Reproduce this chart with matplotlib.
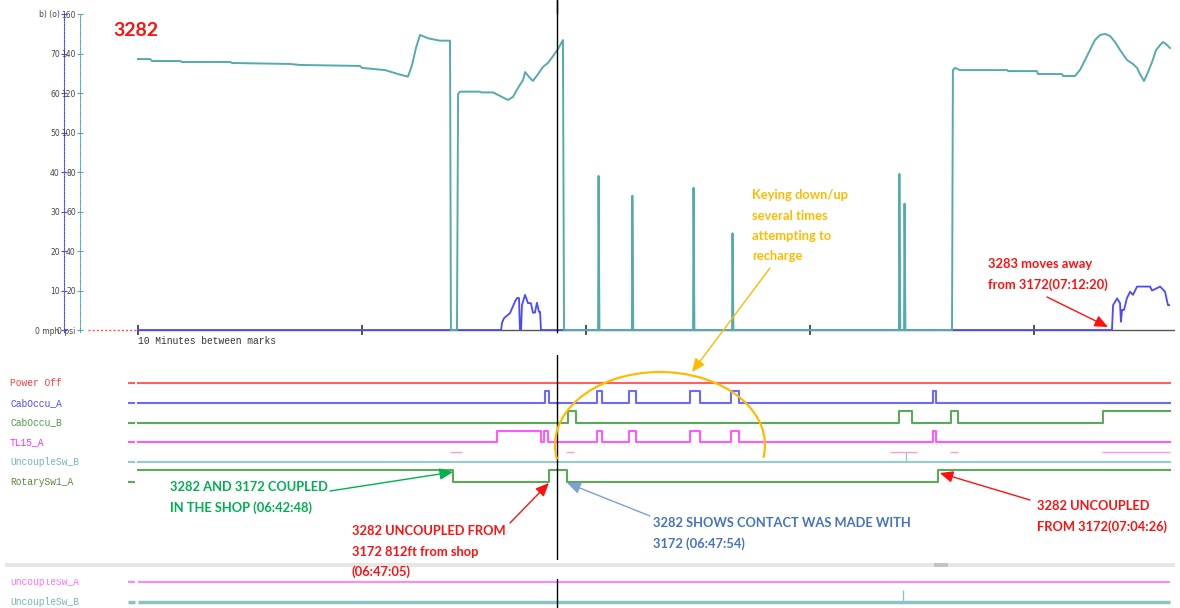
import matplotlib
matplotlib.use("Agg")
import matplotlib.pyplot as plt
from matplotlib import transforms
from matplotlib.patches import Arc, Rectangle

W, H, DPI = 1180, 608, 100


def hms(s):
    """'HH:MM:SS' -> minutes after 06:00."""
    h, m, sec = (int(v) for v in s.split(":"))
    return (h - 6) * 60 + m + sec / 60


# ---- recorder timeline (minutes after 06:00) ----
TRACE_START = 28.74
TRACE_END = 74.81
MARK_EVERY = 10
CURSOR = hms("06:47:27")

# ---- analog channels ----
PRESSURE_T = [28.74, 29.28, 29.37, 30.62, 30.70, 32.85, 32.94, 35.53, 35.97, 38.65,
              38.74, 39.77, 40.35, 40.79, 40.97, 41.15, 41.33, 41.69, 42.22, 42.67,
              42.71, 42.98, 43.03, 43.12, 44.01, 44.05, 44.59, 44.90, 45.26, 45.48,
              45.70, 45.93, 46.02, 46.24, 46.37, 46.60, 46.82, 47.04, 47.27, 47.49,
              47.71, 47.76,
              49.28, 49.30, 49.34, 50.79, 50.81, 50.85, 53.52, 53.54, 53.58,
              55.26, 55.28, 55.32,
              62.71, 62.73, 62.77, 62.94, 62.96, 63.00,
              65.08, 65.12, 65.21, 65.44, 67.54, 67.58, 68.87, 68.92, 69.99, 70.04,
              70.57, 70.79, 71.02, 71.24, 71.46, 71.69, 71.91, 72.13, 72.36, 72.58,
              72.89, 73.16, 73.34, 73.47, 73.65, 73.83, 74.01, 74.19, 74.41, 74.50,
              74.63, 74.81]
PRESSURE_PSI = [137.2, 137.2, 136.2, 136.2, 135.7, 135.7, 135.2, 134.7, 134.2, 133.7,
                132.7, 131.6, 129.6, 128.3, 134.0, 142.8, 149.4, 147.7, 146.5, 146.5,
                0, 0, 119.5, 120.7, 120.7, 120.3, 120.3, 118.5, 116.5, 118.0,
                122.5, 126.6, 130.6, 127.6, 126.1, 129.6, 133.2, 135.2, 138.7, 142.3,
                146.8, 0,
                0, 78, 0, 0, 68, 0, 0, 72, 0,
                0, 49, 0,
                0, 79, 0, 0, 64, 0,
                0, 131.6, 132.7, 131.6, 131.6, 131.1, 131.1, 129.6, 129.6, 128.6,
                128.6, 131.6, 136.7, 141.8, 146.8, 149.4, 149.9, 148.9, 145.8, 141.8,
                136.7, 134.7, 132.7, 129.6, 126.1, 130.6, 135.7, 141.8, 144.8, 145.8,
                144.8, 142.8]

SPEED_T = [28.74, 44.95, 44.99, 45.08, 45.35, 45.57, 45.66, 45.75, 45.79, 45.84,
           45.88, 46.02, 46.15, 46.28, 46.37, 46.46, 46.55, 46.64, 46.69, 46.73,
           72.22, 72.27, 72.45, 72.58, 72.62, 72.67, 72.76, 72.89, 73.03, 73.16,
           73.34, 73.92, 74.01, 74.37, 74.59, 74.72, 74.77]
SPEED_MPH = [0, 0, 1.8, 3.0, 4.3, 7.2, 8.1, 8.1, 0, 0,
             6.3, 8.9, 6.8, 6.8, 4.4, 4.4, 6.9, 4.6, 4.6, 0,
             0, 6.3, 8.0, 6.8, 2.1, 5.1, 5.1, 8.1, 9.7, 8.9,
             11.0, 11.0, 10.0, 11.0, 9.7, 6.3, 6.3]

PSI_TICKS = [0, 20, 40, 60, 80, 100, 120, 140, 160]
PSI_LABELS = ["0 psi", "20", "40", "60", "80", "100", "120", "140", "160"]
MPH_TICKS = [0, 10, 20, 30, 40, 50, 60, 70, 80]
MPH_LABELS = ["0 mph", "10", "20", "30", "40", "50", "60", "70", "b) (o)"]

# ---- discrete channels: (on, off) pulses ----
COUPLED = "06:42:48"
UNCOUPLED_SHOP = "06:47:05"
CONTACT = "06:47:54"
UNCOUPLED = "07:04:26"
MOVES_AWAY = "07:12:20"

SIGNALS = ["Power Off", "CabOccu_A", "CabOccu_B", "TL15_A", "UncoupleSw_B", "RotarySw1_A"]
POWER_OFF = []
CABOCCU_A = [(46.91, 47.09), (49.23, 49.45), (50.66, 50.97), (53.38, 53.83),
             (55.21, 55.57), (64.23, 64.37)]
CABOCCU_B = [(47.94, 48.29), (62.71, 63.29), (65.03, 65.35), (71.82, TRACE_END)]
TL15_A = [(44.77, 46.73), (46.87, 47.04), (49.23, 49.45), (50.66, 50.97),
          (53.38, 53.83), (55.21, 55.57), (64.23, 64.37)]
TL15_FAINT = [(42.67, 43.20), (47.85, 48.20), (62.31, 63.52), (64.99, 65.35),
              (71.78, TRACE_END)]
UNCOUPLE_SW_B = []
UNCOUPLE_SW_B_BLIP = [63.03]
ROTARY_SW1_A = [(TRACE_START, hms(COUPLED)), (hms(UNCOUPLED_SHOP), hms(CONTACT)),
                (hms(UNCOUPLED), TRACE_END)]

LOWER_SIGNALS = ["UncoupleSw_A", "UncoupleSw_B"]
LOWER_SW_B_BLIP = [62.89]

SIG_LINE = ["#ff6060", "#6a6aff", "#5aaa5a", "#ff5aff", "#94cccc", "#5aaa5a"]
SIG_TEXT = ["#ff3a3a", "#4a4aff", "#4c9c4c", "#ff2aff", "#78b4b4", "#5a8a3a"]

# ---- palette ----
TEAL = "#55abab"
BLUE = "#4a4aff"
AXIS_GREY = "#555555"
RED = "#ff1010"
GREEN = "#00b050"
NOTE_BLUE = "#4472c4"
ORANGE = "#ffbb00"

PX_PER_MIN = 22.4   # horizontal scale of the viewer
X0_PX = 138         # pixel column of TRACE_START
ROW_PX = 19.8       # spacing of the discrete rows
HIGH = 0.6          # pulse height in row units

MONO = "Liberation Mono"
NOTE_FONT = ["Lato", "DejaVu Sans"]


def t_at(px):
    return TRACE_START + (px - X0_PX) / PX_PER_MIN


def px_box(x0, y0, x1, y1):
    return [x0 / W, 1 - y1 / H, (x1 - x0) / W, (y1 - y0) / H]


def step_xy(pulses):
    xs, ys = [TRACE_START], [0]
    for a, b in pulses:
        if a <= TRACE_START:
            ys[0] = 1
        else:
            xs.append(a)
            ys.append(1)
        if b < TRACE_END:
            xs.append(b)
            ys.append(0)
    xs.append(TRACE_END)
    ys.append(ys[-1])
    return xs, ys


fig = plt.figure(figsize=(W / DPI, H / DPI), dpi=DPI)
fig.patch.set_facecolor("white")

# ---------------- analog pane ----------------
ax = fig.add_axes(px_box(88, 14, 1175, 332))
ax_mph = ax.twinx()
ax.set_zorder(ax_mph.get_zorder() + 1)
ax.patch.set_visible(False)

for a in (ax, ax_mph):
    a.set_xlim(t_at(88), t_at(1175))
    for s in a.spines.values():
        s.set_visible(False)
    a.set_xticks([])
ax.set_ylim(-1, 160)
ax_mph.set_ylim(-0.5, 80)

ax.spines["left"].set_visible(True)
ax.spines["left"].set_position(("outward", 8 * 72 / DPI))
ax.spines["left"].set_linestyle((0, (1.2, 1.2)))
ax.spines["left"].set_color(TEAL)
ax.set_yticks(PSI_TICKS)
ax.set_yticklabels(PSI_LABELS)
ax.tick_params(axis="y", direction="inout", length=4, width=0.8, color=TEAL,
               labelsize=5.5, labelcolor="#444444", pad=1)

ax_mph.yaxis.set_ticks_position("left")
ax_mph.spines["left"].set_visible(True)
ax_mph.spines["left"].set_position(("outward", 24 * 72 / DPI))
ax_mph.spines["left"].set_linestyle((0, (1.2, 1.2)))
ax_mph.spines["left"].set_color(BLUE)
ax_mph.set_yticks(MPH_TICKS)
ax_mph.set_yticklabels(MPH_LABELS)
ax_mph.tick_params(axis="y", direction="inout", length=4, width=0.8, color=BLUE,
                   labelsize=5.5, labelcolor="#444444", pad=1)

# time ruler, no-data stretch and 10-minute marks
marks = [TRACE_START + MARK_EVERY * k for k in range(5)]
ax_mph.hlines(0, TRACE_START, t_at(1175), color=AXIS_GREY, lw=1.0, zorder=1)
ax_mph.hlines(0, t_at(88), TRACE_START, color="#ff5050", lw=1,
              linestyles=(0, (1.5, 1.5)), zorder=1)
ax_mph.vlines(marks, -1.2, 1.2, color="#444444", lw=1.3, zorder=1, clip_on=False)
ax_mph.plot(SPEED_T, SPEED_MPH, color=BLUE, lw=1.3, zorder=2, clip_on=False)
ax.plot(PRESSURE_T, PRESSURE_PSI, color=TEAL, lw=1.4, zorder=3, clip_on=False)
ax.axvline(CURSOR, color="black", lw=1, zorder=4, ymax=1.05, clip_on=False)

# ---------------- discrete pane ----------------
dig_top, dig_bot = 355, 560
ax_d = fig.add_axes(px_box(0, dig_top, W, dig_bot))
ax_d.set_xlim(t_at(0), t_at(W))
row0 = (383 - dig_top) / ROW_PX
ax_d.set_ylim(row0 - (dig_bot - dig_top) / ROW_PX, row0)
ax_d.axis("off")

pulses = [POWER_OFF, CABOCCU_A, CABOCCU_B, TL15_A, UNCOUPLE_SW_B, ROTARY_SW1_A]
for i, (name, p) in enumerate(zip(SIGNALS, pulses)):
    xs, ys = step_xy(p)
    ax_d.plot(xs, [-i + HIGH * v for v in ys], drawstyle="steps-post",
              color=SIG_LINE[i], lw=1.5)
    ax_d.hlines(-i, t_at(128), t_at(135), color=SIG_LINE[i], lw=1.5)
    ax_d.text(t_at(10), -i, name, family=MONO, fontsize=6.9, color=SIG_TEXT[i],
              va="center", ha="left")

for a, b in TL15_FAINT:
    ax_d.hlines(-3 - 0.5, a, b, color="#ff9ad5", lw=1)
ax_d.vlines(UNCOUPLE_SW_B_BLIP, -4, -4 + 0.5, color=SIG_LINE[4], lw=1)
ax_d.axvline(CURSOR, color="black", lw=1)

# ---------------- lower pane ----------------
low_top = 579
ax_b = fig.add_axes(px_box(0, low_top, W, H))
ax_b.set_xlim(t_at(0), t_at(W))
lrow0 = (582 - low_top) / ROW_PX
ax_b.set_ylim(lrow0 - (H - low_top) / ROW_PX, lrow0)
ax_b.axis("off")
low_line = ["#ff88ff", "#8cc4c4"]
low_text = ["#ff70ff", "#78b4b4"]
for i, name in enumerate(LOWER_SIGNALS):
    ax_b.hlines(-i, TRACE_START, TRACE_END, color=low_line[i], lw=1.5 + i)
    ax_b.hlines(-i, t_at(128), t_at(135), color=low_line[i], lw=1.5 + i)
    ax_b.text(t_at(10), -i, name, family=MONO, fontsize=6.9, color=low_text[i],
              va="center", ha="left", clip_on=True)
ax_b.vlines(LOWER_SW_B_BLIP, -1, -1 + 0.6, color=low_line[1], lw=1)
ax_b.axvline(CURSOR, color="black", lw=1)

# ---------------- notes overlay (pixel coordinates) ----------------
ov = fig.add_axes([0, 0, 1, 1], zorder=10)
ov.set_xlim(0, W)
ov.set_ylim(H, 0)
ov.axis("off")
ev = transforms.blended_transform_factory(ax_d.transData, ov.transData)

ov.add_patch(Rectangle((5, 563), 1170, 4, color="#e6e6e6", lw=0))
ov.add_patch(Rectangle((934, 563), 14, 4, color="#c4c4c4", lw=0))

ov.text(113, 30, "3282", color=RED, fontsize=14, weight="bold", family=NOTE_FONT,
        va="center", ha="left")
ov.text(138, 341, "10 Minutes between marks", family=MONO, fontsize=6.9,
        color="#333333", va="center", ha="left")

LINE_H = 20.5


def note(x, y, lines, color):
    for k, line in enumerate(lines):
        ov.text(x, y + k * LINE_H, line, color=color, fontsize=9.3, weight="bold",
                family=NOTE_FONT, va="center", ha="left")


def arrow(tail, tip, color, tip_coords=None):
    ov.annotate("", xy=tip, xycoords=tip_coords or ov.transData, xytext=tail,
                textcoords=ov.transData,
                arrowprops=dict(arrowstyle="-|>,head_length=0.8,head_width=0.35",
                                color=color, lw=1, shrinkA=0, shrinkB=0,
                                mutation_scale=10))


note(752, 195, ["Keying down/up", "several times", "attempting to", "recharge"], ORANGE)
arrow((770, 268), (692, 372), ORANGE)
ov.add_patch(Arc((660, 445), 210, 146, theta1=172, theta2=367, color=ORANGE, lw=1.6))

note(988, 264, ["3283 moves away", f"from 3172({MOVES_AWAY})"], RED)
arrow((1047, 297), (1108, 327), RED)

note(170, 487, ["3282 AND 3172 COUPLED", f"IN THE SHOP ({COUPLED})"], GREEN)
arrow((330, 491), (hms(COUPLED), 472), GREEN, ev)

note(352, 531, ["3282 UNCOUPLED FROM", "3172 812ft from shop", f"({UNCOUPLED_SHOP})"], RED)
arrow((510, 523), (hms(UNCOUPLED_SHOP), 483), RED, ev)

note(653, 523, ["3282 SHOWS CONTACT WAS MADE WITH", f"3172 ({CONTACT})"], NOTE_BLUE)
arrow((650, 516), (hms(CONTACT), 483), "#7d9fd8", ev)

note(1037, 506, ["3282 UNCOUPLED", f"FROM 3172({UNCOUPLED})"], RED)
arrow((1030, 500), (hms(UNCOUPLED) + 0.1, 473), RED, ev)

ov.vlines(CURSOR, 0, 14, color="black", lw=1, transform=ev)

fig.savefig("out.png", dpi=DPI, facecolor="white")
